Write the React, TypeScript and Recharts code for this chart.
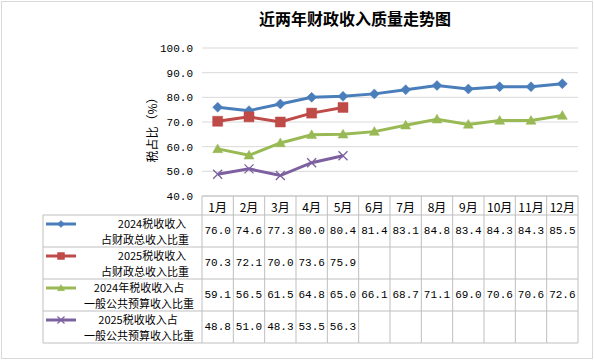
import React from 'react'
import { LineChart, Line, XAxis, YAxis, CartesianGrid } from 'recharts'

const months = ['1月', '2月', '3月', '4月', '5月', '6月', '7月', '8月', '9月', '10月', '11月', '12月']
const tax2024Total = [76.0, 74.6, 77.3, 80.0, 80.4, 81.4, 83.1, 84.8, 83.4, 84.3, 84.3, 85.5]
const tax2025Total = [70.3, 72.1, 70.0, 73.6, 75.9, null, null, null, null, null, null, null]
const tax2024Budget = [59.1, 56.5, 61.5, 64.8, 65.0, 66.1, 68.7, 71.1, 69.0, 70.6, 70.6, 72.6]
const tax2025Budget = [48.8, 51.0, 48.3, 53.5, 56.3, null, null, null, null, null, null, null]
const yTicks = [40, 50, 60, 70, 80, 90, 100]

const TITLE = '近两年财政收入质量走势图'
const Y_TITLE = '税占比（%）'

const SERIES = [
  { key: 's1', values: tax2024Total, color: '#4A7EBB', shape: 'diamond', lines: ['2024税收收入', '占财政总收入比重'], cx: [152, 145] },
  { key: 's2', values: tax2025Total, color: '#BE4B48', shape: 'square', lines: ['2025税收收入', '占财政总收入比重'], cx: [152, 145] },
  { key: 's3', values: tax2024Budget, color: '#98B954', shape: 'triangle', lines: ['2024年税收收入占', '一般公共预算收入比重'], cx: [139, 139] },
  { key: 's4', values: tax2025Budget, color: '#7D60A0', shape: 'x', lines: ['2025税收收入占', '一般公共预算收入比重'], cx: [138, 139] },
]

const data = months.map((m, i) => ({
  month: m,
  s1: tax2024Total[i],
  s2: tax2025Total[i],
  s3: tax2024Budget[i],
  s4: tax2025Budget[i],
}))

// layout
const W = 594
const H = 360
const PLOT_L = 202
const PLOT_R = 578
const PLOT_T = 48
const PLOT_B = 196
const COL_W = (PLOT_R - PLOT_L) / 12
const ROW_TOP = 215
const ROW_H = 32
const GRID = '#bfbfbf'
const CJK = '"Noto Sans CJK SC", sans-serif'
const NUM = '"Liberation Mono", "DejaVu Sans Mono", monospace'

function markerPath(shape: string, x: number, y: number, r: number) {
  if (shape === 'diamond') return `M${x},${y - r}L${x + r},${y}L${x},${y + r}L${x - r},${y}Z`
  if (shape === 'square') return `M${x - r},${y - r}H${x + r}V${y + r}H${x - r}Z`
  if (shape === 'triangle') return `M${x},${y - r}L${x + r},${y + r * 0.75}L${x - r},${y + r * 0.75}Z`
  return `M${x - r},${y - r}L${x + r},${y + r}M${x - r},${y + r}L${x + r},${y - r}`
}

function Marker({ shape, color, x, y, r }: { shape: string; color: string; x: number; y: number; r: number }) {
  if (shape === 'x') {
    return <path d={markerPath(shape, x, y, r)} stroke={color} strokeWidth={1.3} fill="none" />
  }
  return <path d={markerPath(shape, x, y, r)} fill={color} stroke={color} strokeWidth={0.5} />
}

const makeDot = (shape: string, color: string, r: number) => (props: any) => {
  const { cx, cy, index, value } = props
  if (value == null || cx == null || cy == null) return <g key={index} />
  return <Marker key={index} shape={shape} color={color} x={cx} y={cy} r={r} />
}

const TableTick = (props: any) => {
  const { x, payload, index } = props
  const left = x - COL_W / 2
  const right = x + COL_W / 2
  const bottom = ROW_TOP + ROW_H * SERIES.length
  return (
    <g>
      <line x1={left} x2={left} y1={PLOT_B} y2={bottom} stroke={GRID} />
      {index === months.length - 1 && <line x1={right} x2={right} y1={PLOT_B} y2={bottom} stroke={GRID} />}
      {SERIES.map((s, r) => (
        <line key={r} x1={left} x2={right} y1={ROW_TOP + ROW_H * (r + 1)} y2={ROW_TOP + ROW_H * (r + 1)} stroke={GRID} />
      ))}
      <line x1={left} x2={right} y1={ROW_TOP} y2={ROW_TOP} stroke={GRID} />
      <text x={x} y={206} textAnchor="middle" dominantBaseline="central" fontSize={12} fontFamily={CJK} fill="#000">
        {payload.value}
      </text>
      {SERIES.map((s, r) => {
        const v = s.values[index]
        if (v == null) return null
        return (
          <text key={s.key} x={x} y={ROW_TOP + ROW_H * r + 16} textAnchor="middle" dominantBaseline="central"
            fontSize={11} fontFamily={NUM} fill="#000">
            {v.toFixed(1)}
          </text>
        )
      })}
    </g>
  )
}

export default function App() {
  return (
    <div style={{ position: 'relative', width: W, height: H, background: '#fff' }}>
      <style>{'body{margin:0}'}</style>
      <div style={{ position: 'absolute', left: 1, top: 1, width: 590, height: 356, border: '1px solid #d9d9d9' }} />
      <LineChart width={W} height={H} data={data} margin={{ top: PLOT_T, right: W - PLOT_R, bottom: 0, left: PLOT_L - 60 }}>
        <CartesianGrid vertical={false} stroke="#d9d9d9" />
        <XAxis
          dataKey="month"
          height={H - PLOT_B}
          padding={{ left: COL_W / 2, right: COL_W / 2 }}
          axisLine={{ stroke: GRID }}
          tickLine={false}
          tickSize={0}
          tickMargin={0}
          interval={0}
          tick={<TableTick />}
        />
        <YAxis
          width={60}
          domain={[40, 100]}
          ticks={yTicks}
          tickFormatter={(v: number) => v.toFixed(1)}
          axisLine={false}
          tickLine={false}
          tickSize={0}
          tickMargin={9}
          tick={{ fontSize: 11, fontFamily: NUM, fill: '#000' }}
        />
        {SERIES.map(s => (
          <Line
            key={s.key}
            dataKey={s.key}
            type="linear"
            stroke={s.color}
            strokeWidth={3}
            dot={makeDot(s.shape, s.color, s.shape === 'x' ? 4.5 : 5)}
            activeDot={false}
            connectNulls={false}
            isAnimationActive={false}
          />
        ))}
      </LineChart>
      <svg width={W} height={H} style={{ position: 'absolute', left: 0, top: 0, pointerEvents: 'none' }}>
        <text x={355} y={18} textAnchor="middle" dominantBaseline="central" fontSize={16} fontWeight="bold" fontFamily={CJK} fill="#000">
          {TITLE}
        </text>
        <text x={151} y={127} textAnchor="middle" dominantBaseline="central" fontSize={12} fontFamily={CJK} fill="#000"
          transform="rotate(-90 151 127)">
          {Y_TITLE}
        </text>
        <line x1={43} x2={43} y1={ROW_TOP} y2={ROW_TOP + ROW_H * SERIES.length} stroke={GRID} />
        {SERIES.map((s, r) => {
          const top = ROW_TOP + ROW_H * r
          return (
            <g key={s.key}>
              <line x1={43} x2={PLOT_L} y1={top} y2={top} stroke={GRID} />
              <line x1={46} x2={76} y1={top + 9} y2={top + 9} stroke={s.color} strokeWidth={3} />
              <Marker shape={s.shape} color={s.color} x={61} y={top + 9} r={3.5} />
              {s.lines.map((t, k) => (
                <text key={k} x={s.cx[k]} y={top + 8.25 + k * 15.5} textAnchor="middle" dominantBaseline="central"
                  fontSize={11} fontFamily={CJK} fill="#000">
                  {t}
                </text>
              ))}
            </g>
          )
        })}
        <line x1={43} x2={PLOT_L} y1={ROW_TOP + ROW_H * SERIES.length} y2={ROW_TOP + ROW_H * SERIES.length} stroke={GRID} />
      </svg>
    </div>
  )
}
